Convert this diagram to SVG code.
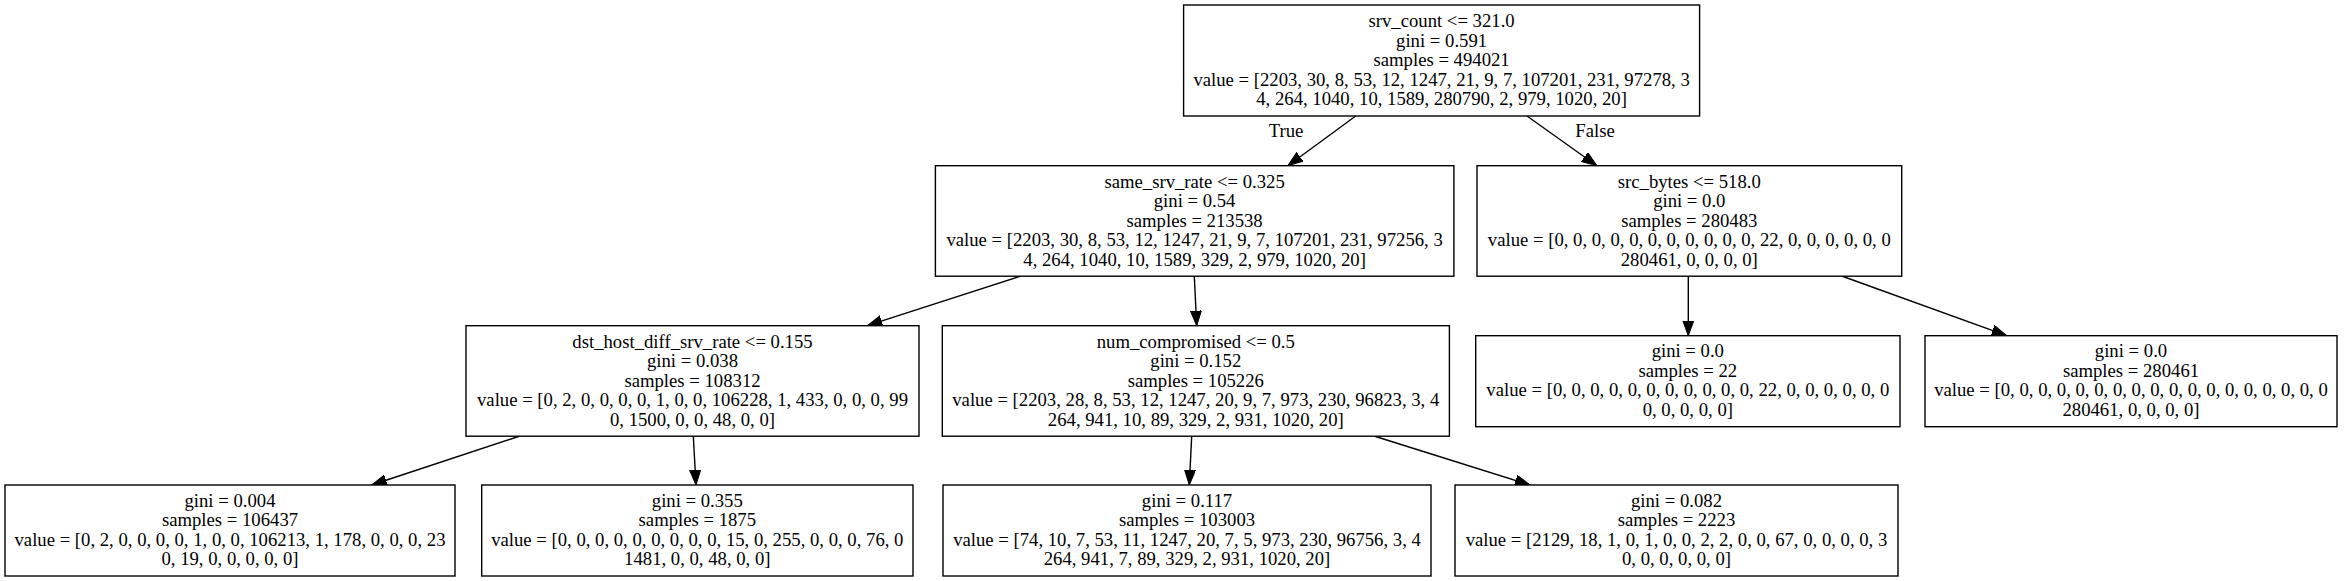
<svg xmlns="http://www.w3.org/2000/svg" width="2344" height="581" viewBox="0 0 2344 581">
<style>
.box{fill:#fff;stroke:#000;stroke-width:1.4}
text{font-family:"Liberation Serif","Times New Roman",serif;font-size:18.7px;fill:#000;text-anchor:middle}
.edge{stroke:#000;stroke-width:1.4;fill:none;marker-end:url(#ah)}
</style>
<defs>
<marker id="ah" markerUnits="userSpaceOnUse" markerWidth="16" markerHeight="12" refX="15" refY="5.5" orient="auto">
<path d="M0,0 L15,5.5 L0,11 z" fill="#000" stroke="#000" stroke-width="1"/>
</marker>
</defs>
<rect width="2344" height="581" fill="#fff"/>
<g id="connectors">
<line class="edge" x1="1355.7" y1="116" x2="1287.9" y2="165.7"/>
<line class="edge" x1="1527" y1="116" x2="1596.8" y2="165.7"/>
<text x="1286" y="137">True</text>
<text x="1595" y="137">False</text>
<line class="edge" x1="1021" y1="276" x2="867.3" y2="325.7"/>
<line class="edge" x1="1194.3" y1="276" x2="1196.7" y2="325.7"/>
<line class="edge" x1="1688.3" y1="276" x2="1688.3" y2="335.7"/>
<line class="edge" x1="1841.7" y1="276" x2="2006.7" y2="335.7"/>
<line class="edge" x1="520" y1="436" x2="371.7" y2="485"/>
<line class="edge" x1="693.3" y1="436" x2="696" y2="485"/>
<line class="edge" x1="1191.7" y1="436" x2="1189.3" y2="485"/>
<line class="edge" x1="1374" y1="436" x2="1530" y2="485"/>
</g>
<g id="node0">
<rect class="box" x="1183.6" y="5" width="516" height="111"/>
<text x="1441.6" y="27">srv_count &lt;= 321.0</text>
<text x="1441.6" y="46.5">gini = 0.591</text>
<text x="1441.6" y="66">samples = 494021</text>
<text x="1441.6" y="85.5">value = [2203, 30, 8, 53, 12, 1247, 21, 9, 7, 107201, 231, 97278, 3</text>
<text x="1441.6" y="105">4, 264, 1040, 10, 1589, 280790, 2, 979, 1020, 20]</text>
</g>
<g id="node1">
<rect class="box" x="935.4" y="165.7" width="518.5" height="110.5"/>
<text x="1194.6" y="187.5">same_srv_rate &lt;= 0.325</text>
<text x="1194.6" y="207">gini = 0.54</text>
<text x="1194.6" y="226.5">samples = 213538</text>
<text x="1194.6" y="246">value = [2203, 30, 8, 53, 12, 1247, 21, 9, 7, 107201, 231, 97256, 3</text>
<text x="1194.6" y="265.5">4, 264, 1040, 10, 1589, 329, 2, 979, 1020, 20]</text>
</g>
<g id="node2">
<rect class="box" x="466" y="325.7" width="453" height="110.5"/>
<text x="692.5" y="347.5">dst_host_diff_srv_rate &lt;= 0.155</text>
<text x="692.5" y="367">gini = 0.038</text>
<text x="692.5" y="386.5">samples = 108312</text>
<text x="692.5" y="406">value = [0, 2, 0, 0, 0, 0, 1, 0, 0, 106228, 1, 433, 0, 0, 0, 99</text>
<text x="692.5" y="425.5">0, 1500, 0, 0, 48, 0, 0]</text>
</g>
<g id="node3">
<rect class="box" x="5" y="485" width="450" height="91"/>
<text x="230" y="506.75">gini = 0.004</text>
<text x="230" y="526.25">samples = 106437</text>
<text x="230" y="545.75">value = [0, 2, 0, 0, 0, 0, 1, 0, 0, 106213, 1, 178, 0, 0, 0, 23</text>
<text x="230" y="565.25">0, 19, 0, 0, 0, 0, 0]</text>
</g>
<g id="node4">
<rect class="box" x="481.7" y="485" width="431.3" height="91"/>
<text x="697.3" y="506.75">gini = 0.355</text>
<text x="697.3" y="526.25">samples = 1875</text>
<text x="697.3" y="545.75">value = [0, 0, 0, 0, 0, 0, 0, 0, 0, 15, 0, 255, 0, 0, 0, 76, 0</text>
<text x="697.3" y="565.25">1481, 0, 0, 48, 0, 0]</text>
</g>
<g id="node5">
<rect class="box" x="942.3" y="325.7" width="507.1" height="110.5"/>
<text x="1195.8" y="347.5">num_compromised &lt;= 0.5</text>
<text x="1195.8" y="367">gini = 0.152</text>
<text x="1195.8" y="386.5">samples = 105226</text>
<text x="1195.8" y="406">value = [2203, 28, 8, 53, 12, 1247, 20, 9, 7, 973, 230, 96823, 3, 4</text>
<text x="1195.8" y="425.5">264, 941, 10, 89, 329, 2, 931, 1020, 20]</text>
</g>
<g id="node6">
<rect class="box" x="943" y="485" width="488" height="91"/>
<text x="1187" y="506.75">gini = 0.117</text>
<text x="1187" y="526.25">samples = 103003</text>
<text x="1187" y="545.75">value = [74, 10, 7, 53, 11, 1247, 20, 7, 5, 973, 230, 96756, 3, 4</text>
<text x="1187" y="565.25">264, 941, 7, 89, 329, 2, 931, 1020, 20]</text>
</g>
<g id="node7">
<rect class="box" x="1455" y="485" width="443" height="91"/>
<text x="1676.5" y="506.75">gini = 0.082</text>
<text x="1676.5" y="526.25">samples = 2223</text>
<text x="1676.5" y="545.75">value = [2129, 18, 1, 0, 1, 0, 0, 2, 2, 0, 0, 67, 0, 0, 0, 0, 3</text>
<text x="1676.5" y="565.25">0, 0, 0, 0, 0, 0]</text>
</g>
<g id="node8">
<rect class="box" x="1477" y="165.7" width="424.7" height="110.5"/>
<text x="1689.3" y="187.5">src_bytes &lt;= 518.0</text>
<text x="1689.3" y="207">gini = 0.0</text>
<text x="1689.3" y="226.5">samples = 280483</text>
<text x="1689.3" y="246">value = [0, 0, 0, 0, 0, 0, 0, 0, 0, 0, 0, 22, 0, 0, 0, 0, 0, 0</text>
<text x="1689.3" y="265.5">280461, 0, 0, 0, 0]</text>
</g>
<g id="node9">
<rect class="box" x="1475.7" y="335.7" width="424.3" height="91"/>
<text x="1687.8" y="357.45">gini = 0.0</text>
<text x="1687.8" y="376.95">samples = 22</text>
<text x="1687.8" y="396.45">value = [0, 0, 0, 0, 0, 0, 0, 0, 0, 0, 0, 22, 0, 0, 0, 0, 0, 0</text>
<text x="1687.8" y="415.95">0, 0, 0, 0, 0]</text>
</g>
<g id="node10">
<rect class="box" x="1925" y="335.7" width="412" height="91"/>
<text x="2131" y="357.45">gini = 0.0</text>
<text x="2131" y="376.95">samples = 280461</text>
<text x="2131" y="396.45">value = [0, 0, 0, 0, 0, 0, 0, 0, 0, 0, 0, 0, 0, 0, 0, 0, 0, 0</text>
<text x="2131" y="415.95">280461, 0, 0, 0, 0]</text>
</g>
</svg>
